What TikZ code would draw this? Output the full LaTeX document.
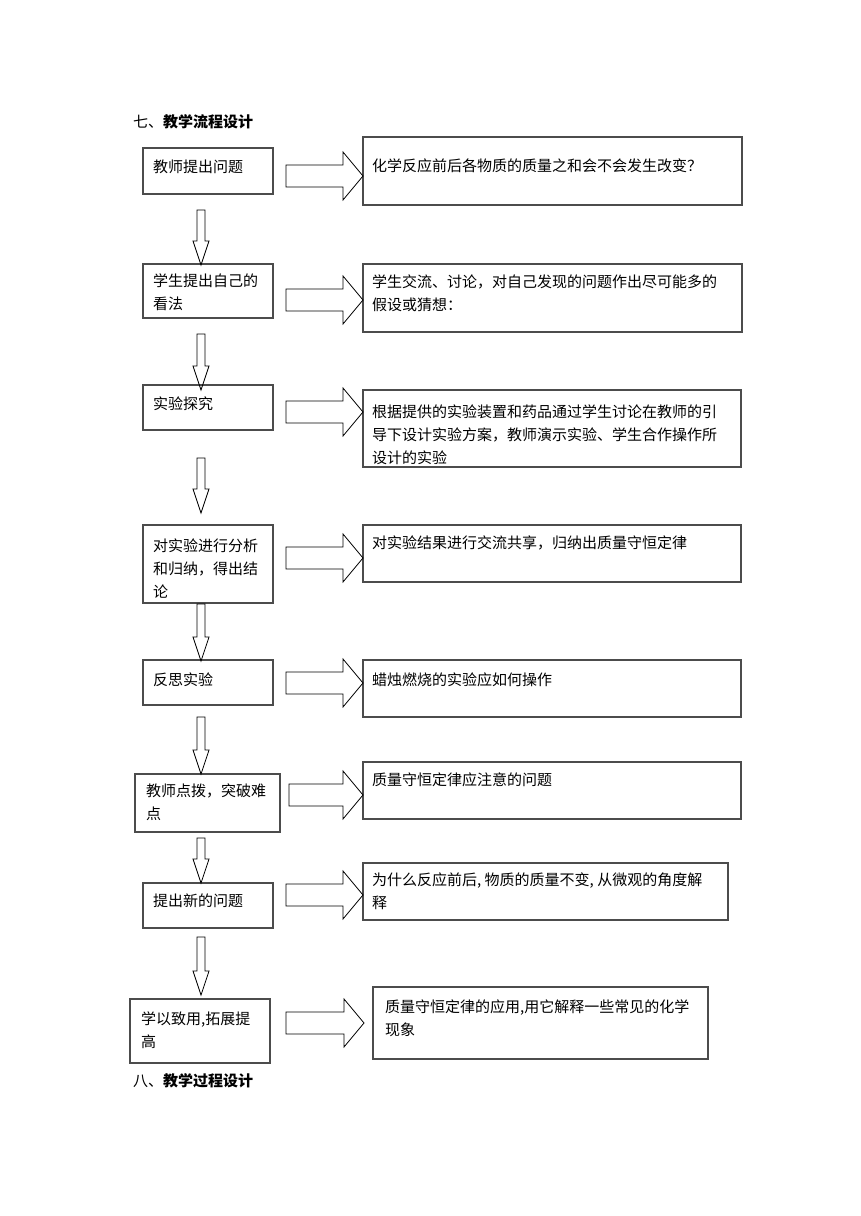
\documentclass[tikz,border=0pt]{standalone}
\usepackage{fontspec}
\newfontfamily\cjk{Noto Sans CJK SC}
\usetikzlibrary{calc}
\tikzset{
 box/.style={draw=black!70, line width=1.1pt, anchor=north west, inner sep=0pt, outer sep=0pt},
 txt/.style={anchor=north west, inner sep=0pt, align=left, font=\cjk\fontsize{15}{23}\selectfont},
 blk/.style={draw=black, line width=0.8pt, line join=miter},
 ttl/.style={anchor=west, inner sep=0pt, font=\cjk\fontsize{15}{18}\selectfont}
}
\newcommand{\harr}[2]{\draw[blk] ($(#1)+(0,-11)$) -- ($(#2)+(-20,-11)$) -- ($(#2)+(-20,-24)$) -- (#2) -- ($(#2)+(-20,24)$) -- ($(#2)+(-20,11)$) -- ($(#1)+(0,11)$) -- cycle;}
\newcommand{\varr}[2]{\draw[blk] ($(#1)+(-4,0)$) -- ($(#2)+(-4,-24)$) -- ($(#2)+(-8,-24)$) -- (#2) -- ($(#2)+(8,-24)$) -- ($(#2)+(4,-24)$) -- ($(#1)+(4,0)$) -- cycle;}
\begin{document}
\begin{tikzpicture}[x=1pt,y=-1pt]
\fill[white] (0,0) rectangle (860,1216);
\useasboundingbox (0,0) rectangle (860,1216);
% titles
\node[ttl] (t1) at (133,122) {七、{\bfseries 教学流程设计}};
\node[ttl] (t2) at (133,1081) {八、{\bfseries 教学过程设计}};
% left boxes
\node[box, minimum width=130pt, minimum height=46pt] (L1) at (143,148) {};
\node[box, minimum width=130pt, minimum height=54pt] (L2) at (143,264) {};
\node[box, minimum width=130pt, minimum height=45pt] (L3) at (143,385) {};
\node[box, minimum width=130pt, minimum height=78pt] (L4) at (143,525) {};
\node[box, minimum width=130pt, minimum height=45pt] (L5) at (143,660) {};
\node[box, minimum width=145pt, minimum height=58pt] (L6) at (135,774) {};
\node[box, minimum width=130pt, minimum height=45pt] (L7) at (143,883) {};
\node[box, minimum width=140pt, minimum height=64pt] (L8) at (130,999) {};
% left texts
\node[txt] (l1) at (153,160) {教师提出问题};
\node[txt] (l2) at (153,274) {学生提出自己的\\看法};
\node[txt] (l3) at (153,397) {实验探究};
\node[txt] (l4) at (153,539) {对实验进行分析\\和归纳，得出结\\论};
\node[txt] (l5) at (153,673) {反思实验};
\node[txt] (l6) at (146,784) {教师点拨，突破难\\点};
\node[txt] (l7) at (153,894) {提出新的问题};
\node[txt] (l8) at (141,1012) {学以致用,拓展提\\高};
% right boxes
\node[box, minimum width=379pt, minimum height=68pt] (R1) at (363,137) {};
\node[box, minimum width=379pt, minimum height=68pt] (R2) at (363,264) {};
\node[box, minimum width=378pt, minimum height=77pt] (R3) at (363,390) {};
\node[box, minimum width=378pt, minimum height=57pt] (R4) at (363,525) {};
\node[box, minimum width=378pt, minimum height=57pt] (R5) at (363,660) {};
\node[box, minimum width=378pt, minimum height=57pt] (R6) at (363,762) {};
\node[box, minimum width=365pt, minimum height=57pt] (R7) at (363,863) {};
\node[box, minimum width=335pt, minimum height=72pt] (R8) at (373,987) {};
% right texts
\node[txt] (r1) at (372,159) {化学反应前后各物质的质量之和会不会发生改变？};
\node[txt] (r2) at (372,275) {学生交流、讨论，对自己发现的问题作出尽可能多的\\假设或猜想：};
\node[txt] (r3) at (372,405) {根据提供的实验装置和药品通过学生讨论在教师的引\\导下设计实验方案，教师演示实验、学生合作操作所\\设计的实验};
\node[txt] (r4) at (372,536) {对实验结果进行交流共享，归纳出质量守恒定律};
\node[txt] (r5) at (372,673) {蜡烛燃烧的实验应如何操作};
\node[txt] (r6) at (372,773) {质量守恒定律应注意的问题};
\node[txt] (r7) at (372,873) {为什么反应前后, 物质的质量不变, 从微观的角度解\\释};
\node[txt] (r8) at (385,1000) {质量守恒定律的应用,用它解释一些常见的化学\\现象};
% horizontal arrow ends
\coordinate (h1s) at (286,176);  \coordinate (h1e) at (363,176);
\coordinate (h2s) at (286,300);  \coordinate (h2e) at (363,300);
\coordinate (h3s) at (286,412);  \coordinate (h3e) at (363,412);
\coordinate (h4s) at (286,558);  \coordinate (h4e) at (363,558);
\coordinate (h5s) at (286,683);  \coordinate (h5e) at (363,683);
\coordinate (h6s) at (289,795);  \coordinate (h6e) at (363,795);
\coordinate (h7s) at (286,895);  \coordinate (h7e) at (363,895);
\coordinate (h8s) at (286,1023); \coordinate (h8e) at (364,1023);
\harr{h1s}{h1e}\harr{h2s}{h2e}\harr{h3s}{h3e}\harr{h4s}{h4e}
\harr{h5s}{h5e}\harr{h6s}{h6e}\harr{h7s}{h7e}\harr{h8s}{h8e}
% vertical arrow ends
\coordinate (v1s) at (201,210); \coordinate (v1e) at (201,265);
\coordinate (v2s) at (201,334); \coordinate (v2e) at (201,390);
\coordinate (v3s) at (201,458); \coordinate (v3e) at (201,513);
\coordinate (v4s) at (201,604); \coordinate (v4e) at (201,661);
\coordinate (v5s) at (201,717); \coordinate (v5e) at (201,774);
\coordinate (v6s) at (201,838); \coordinate (v6e) at (201,883);
\coordinate (v7s) at (201,937); \coordinate (v7e) at (201,995);
\varr{v1s}{v1e}\varr{v2s}{v2e}\varr{v3s}{v3e}\varr{v4s}{v4e}
\varr{v5s}{v5e}\varr{v6s}{v6e}\varr{v7s}{v7e}
\end{tikzpicture}
\end{document}
